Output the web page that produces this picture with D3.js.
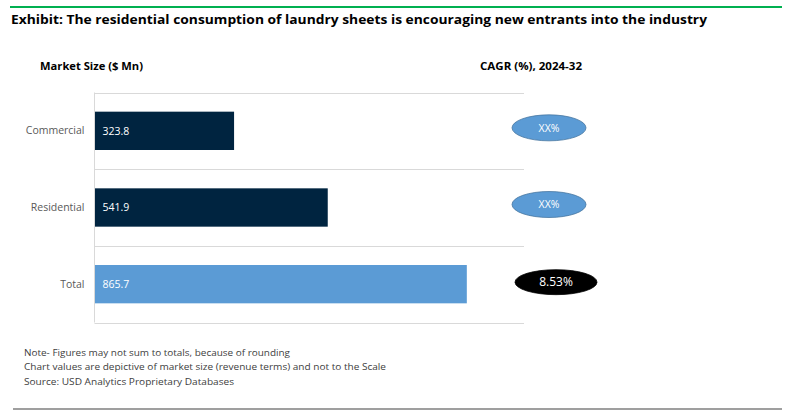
<!DOCTYPE html>
<html><head><meta charset="utf-8">
<script src="https://cdn.jsdelivr.net/npm/d3@7"></script>
<style>body{margin:0;background:#fff}svg{display:block}text{font-family:"Open Sans","Noto Sans",sans-serif}</style>
</head><body>
<script>
const categories = ["Commercial", "Residential", "Total"];
const marketSize = [323.8, 541.9, 865.7];
const cagrLabels = ["XX%", "XX%", "8.53%"];
const barColors = ["#002440", "#002440", "#5B9BD5"];
const notes = [
  "Note- Figures may not sum to totals, because of rounding",
  "Chart values are depictive of market size (revenue terms) and not to the Scale",
  "Source: USD Analytics Proprietary Databases"
];
const noteWidths = [266, 362, 210];
const title = "Exhibit: The residential consumption of laundry sheets is encouraging new entrants into the industry";

(function () {
const W = 792, H = 417;
const svg = d3.select("body").append("svg").attr("width", W).attr("height", H);

// top green rule & bottom grey rule
svg.append("line").attr("x1", 10).attr("x2", 782).attr("y1", 7).attr("y2", 7)
  .attr("stroke", "#00B050").attr("stroke-width", 2);
svg.append("line").attr("x1", 13).attr("x2", 782).attr("y1", 409).attr("y2", 409)
  .attr("stroke", "#7F7F7F").attr("stroke-width", 1.5);

svg.append("text").attr("x", 11).attr("y", 24).text(title)
  .attr("font-size", 12.6).attr("font-weight", "bold").attr("fill", "#000")
  .attr("textLength", 696).attr("lengthAdjust", "spacingAndGlyphs");

svg.append("text").attr("x", 40).attr("y", 70).text("Market Size ($ Mn)")
  .attr("font-size", 10.5).attr("font-weight", "bold").attr("fill", "#000")
  .attr("textLength", 103).attr("lengthAdjust", "spacingAndGlyphs");
svg.append("text").attr("x", 480).attr("y", 70).text("CAGR (%), 2024-32")
  .attr("font-size", 10.5).attr("font-weight", "bold").attr("fill", "#000")
  .attr("textLength", 102).attr("lengthAdjust", "spacingAndGlyphs");

// plot
const pLeft = 94.5, pRight = 524, pTop = 92.5, pBottom = 322.5;
const x = d3.scaleLinear().domain([0, 1000]).range([pLeft, pRight]);
const y = d3.scaleBand().domain(categories).range([pTop, pBottom]).paddingInner(0.5).paddingOuter(0.25);
const yRow = d3.scaleBand().domain(categories).range([pTop, pBottom]);

// horizontal gridlines at row boundaries
const gridYs = categories.map(c => yRow(c)).concat([pBottom]);
svg.append("g").selectAll("line").data(gridYs).join("line")
  .attr("x1", pLeft).attr("x2", pRight).attr("y1", d => Math.round(d) + 0.5).attr("y2", d => Math.round(d) + 0.5)
  .attr("stroke", "#D9D9D9").attr("stroke-width", 1);

// y axis
const yAxis = d3.axisLeft(y).tickSize(0).tickPadding(10);
const ga = svg.append("g").attr("transform", `translate(${pLeft},0)`).call(yAxis);
ga.select(".domain").attr("stroke", "#D9D9D9").attr("d", `M0,${pTop}V${pBottom}`);
ga.selectAll("text").attr("font-size", 10.5).attr("fill", "#595959")
  .attr("font-family", "'Open Sans','Noto Sans',sans-serif");

// bars
const data = categories.map((c, i) => ({c, v: marketSize[i], col: barColors[i], cagr: cagrLabels[i]}));
svg.append("g").selectAll("rect").data(data).join("rect")
  .attr("x", x(0) + 0.5).attr("y", d => y(d.c)).attr("height", y.bandwidth())
  .attr("width", d => x(d.v) - x(0)).attr("fill", d => d.col);

svg.append("g").selectAll("text").data(data).join("text")
  .attr("x", x(0) + 8).attr("y", d => y(d.c) + y.bandwidth() / 2).attr("dy", "0.35em")
  .attr("font-size", 10.5).attr("fill", "#fff").text(d => d.v.toFixed(1));

// CAGR ellipses
const ell = svg.append("g").selectAll("g").data(data).join("g")
  .attr("transform", (d, i) => i < 2
    ? `translate(549,${y(d.c) + y.bandwidth() / 2 - 3})`
    : `translate(556,${y(d.c) + y.bandwidth() / 2 - 2})`);
ell.append("ellipse")
  .attr("rx", (d, i) => i < 2 ? 37 : 41).attr("ry", (d, i) => i < 2 ? 13 : 12.5)
  .attr("fill", (d, i) => i < 2 ? "#5B9BD5" : "#000")
  .attr("stroke", (d, i) => i < 2 ? "#41719C" : "#000").attr("stroke-width", 0.75);
ell.append("text").attr("text-anchor", "middle").attr("dy", "0.35em")
  .attr("font-size", (d, i) => i < 2 ? 10.5 : 12).attr("fill", "#fff").text(d => d.cagr);

// footnotes
svg.append("g").selectAll("text").data(notes).join("text")
  .attr("x", 24).attr("y", (d, i) => 356 + i * 14.3)
  .attr("font-size", 9.8).attr("fill", "#404040")
  .attr("textLength", (d, i) => noteWidths[i]).attr("lengthAdjust", "spacingAndGlyphs")
  .text(d => d);
})();
</script>
</body></html>
